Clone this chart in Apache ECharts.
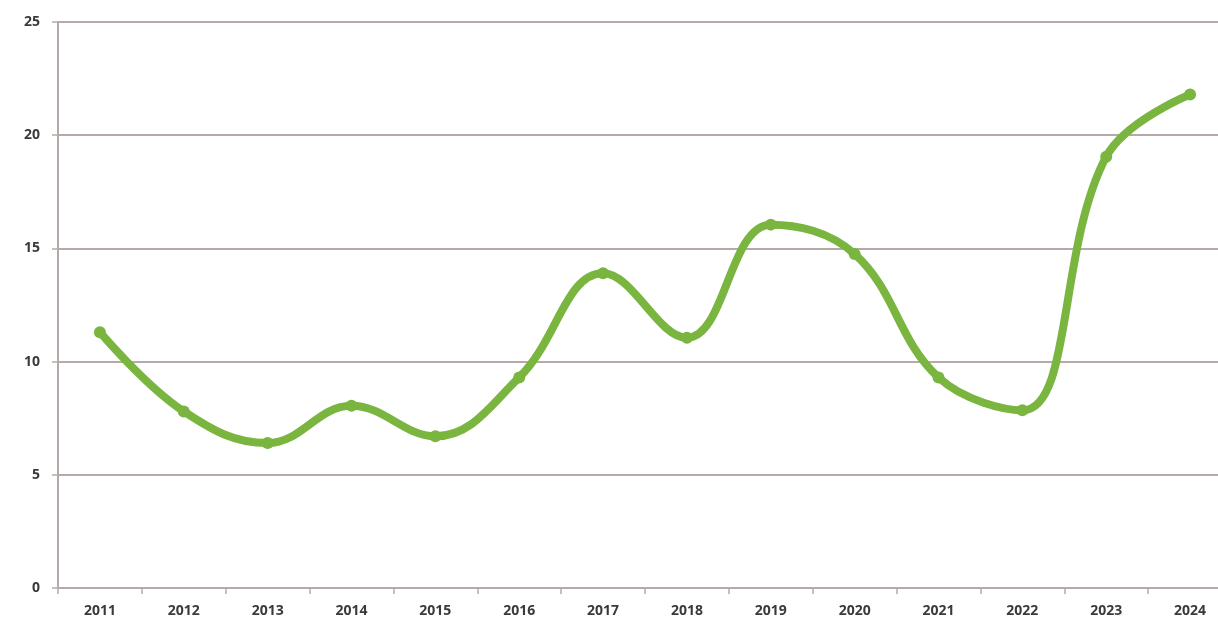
<!DOCTYPE html>
<html>
<head>
<meta charset="utf-8">
<script src="https://cdn.jsdelivr.net/npm/echarts@6/dist/echarts.min.js"></script>
<style>
html,body{margin:0;padding:0;background:#fff;}
#chart{width:1218px;height:626px;}
</style>
</head>
<body>
<div id="chart"></div>
<script>
const years = ['2011','2012','2013','2014','2015','2016','2017','2018','2019','2020','2021','2022','2023','2024'];
const values = [11.3, 7.8, 6.4, 8.05, 6.7, 9.3, 13.9, 11.05, 16.05, 14.75, 9.3, 7.85, 19.05, 21.8];
const yTicks = [0, 5, 10, 15, 20, 25];

const chart = echarts.init(document.getElementById('chart'));
chart.setOption({
  animation: false,
  backgroundColor: '#ffffff',
  grid: { left: 58, width: 1174, top: 22, bottom: 38, containLabel: false, outerBoundsMode: 'none' },
  xAxis: {
    type: 'category',
    data: years,
    boundaryGap: true,
    axisLine: { show: true, lineStyle: { color: '#b8a9a9', width: 2 } },
    axisTick: { show: true, length: 6, lineStyle: { color: '#b8a9a9', width: 1.5 } },
    axisLabel: { color: '#3a3a3a', fontFamily: 'Open Sans', fontWeight: 'bold', fontSize: 14, margin: 16 },
    splitLine: { show: false }
  },
  yAxis: {
    type: 'value',
    min: yTicks[0],
    max: yTicks[yTicks.length - 1],
    interval: 5,
    axisLine: { show: true, lineStyle: { color: '#b8a9a9', width: 2 } },
    axisTick: { show: true, length: 6, lineStyle: { color: '#b8a9a9', width: 1.5 } },
    axisLabel: { color: '#3a3a3a', fontFamily: 'Open Sans', fontWeight: 'bold', fontSize: 14, margin: 18 },
    splitLine: { show: true, lineStyle: { color: '#b8a9a9', width: 2 } }
  },
  series: [{
    type: 'line',
    data: values,
    smooth: 0.4,
    symbol: 'circle',
    symbolSize: 12,
    itemStyle: { color: '#79b53f' },
    lineStyle: { color: '#79b53f', width: 8 }
  }]
});
</script>
</body>
</html>
